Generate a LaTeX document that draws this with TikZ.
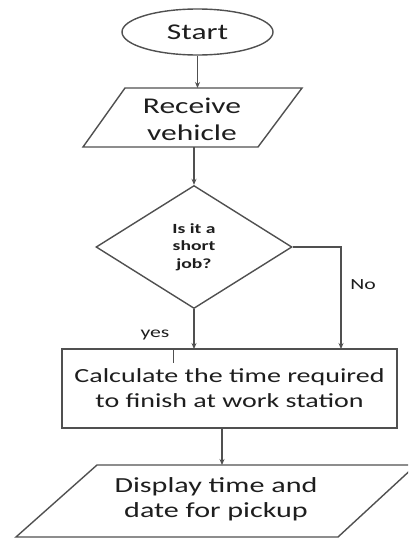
\documentclass[tikz,border=0pt]{standalone}
\usepackage{fontspec}
\newfontfamily\cf[FakeStretch=1.4]{Carlito}
\usetikzlibrary{shapes.geometric,arrows.meta}
\definecolor{lc}{RGB}{80,80,80}
\definecolor{tc}{RGB}{30,30,30}
\begin{document}
\begin{tikzpicture}[x=1pt,y=1pt,
  line/.style={draw=lc,line width=1.4pt},
  arr/.style={line,-{Stealth[length=6pt,width=5pt]}},
  txt/.style={text=tc,font=\cf\fontsize{20}{25}\selectfont,align=center,inner sep=0pt},
  bigtxt/.style={text=tc,font=\cf\fontsize{22.5}{27}\selectfont,align=center,inner sep=0pt},
  disptxt/.style={text=tc,font=\cf\fontsize{21.5}{25}\selectfont,align=center,inner sep=0pt},
  dtxt/.style={text=tc,font=\cf\bfseries\fontsize{14}{17.5}\selectfont,align=center,inner sep=0pt},
  small/.style={text=tc,font=\cf\fontsize{15.5}{18}\selectfont,inner sep=0pt}]
\useasboundingbox (0,0) rectangle (408,-538);
\clip (0,0) rectangle (408,-538);
\fill[white] (0,0) rectangle (408,-538);
% start
\node[line,ellipse,minimum width=151pt,minimum height=46pt,bigtxt] (start) at (197.5,-32) {Start};
% receive
\draw[line] (125,-88) -- (302,-88) -- (258,-147) -- (83,-147) -- cycle;
\node[bigtxt] (rcv) at (192,-119) {Receive\\vehicle};
\coordinate (rcvtop) at (197.5,-88);
\coordinate (rcvbot) at (194,-147);
\draw[arr] (start.south) -- (rcvtop);
% decision
\node[line,diamond,minimum width=196pt,minimum height=123pt,dtxt] (dec) at (194,-247) {Is it a\\short\\job?};
\draw[arr] (rcvbot) -- (dec.north);
\coordinate (notop) at (341,-349);
\coordinate (yestop) at (194,-349);
\draw[arr] (dec.east) -| (notop);
\draw[arr] (dec.south) -- (yestop);
\node[small] (no) at (363,-285) {No};
\node[small] (yes) at (155,-335) {yes};
% calculate
\node[line,rectangle,minimum width=335pt,minimum height=79pt,txt] (calc) at (229.5,-388.5) {Calculate the time required\\to finish at work station};
\coordinate (cur) at (173,-349);
\draw[draw=lc,line width=1pt] (cur) -- ++(0,-14);
% display
\coordinate (calcbot) at (222,-428);
\coordinate (disptop) at (222,-465);
\draw[arr] (calcbot) -- (disptop);
\draw[line] (97,-465) -- (416,-465) -- (338,-537) -- (16,-537) -- cycle;
\node[disptxt] (disp) at (216,-499) {Display time and\\date for pickup};
\end{tikzpicture}
\end{document}
